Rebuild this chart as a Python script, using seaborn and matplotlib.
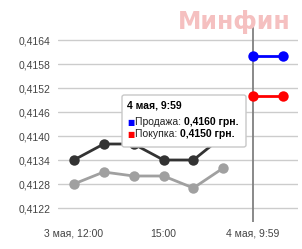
import matplotlib
matplotlib.use('Agg')
import matplotlib.pyplot as plt
import seaborn as sns
import pandas as pd
from matplotlib.patches import FancyBboxPatch
from matplotlib.text import Annotation

# ---- data ----
slots_prev = [0, 1, 2, 3, 4, 5]
sell_prev = [0.4134, 0.4138, 0.4138, 0.4134, 0.4134, 0.4140]
buy_prev = [0.4128, 0.4131, 0.4130, 0.4130, 0.4127, 0.4132]
slots_now = [6, 7]
sell_now = [0.4160, 0.4160]
buy_now = [0.4150, 0.4150]
yticks = [0.4122, 0.4128, 0.4134, 0.4140, 0.4146, 0.4152, 0.4158, 0.4164]
xtick_pos = [0, 3, 6]
xtick_labels = ['3 мая, 12:00', '15:00', '4 мая, 9:59']
tip_title = '4 мая, 9:59'
tip_sell = ('Продажа: ', '0,4160 грн.')
tip_buy = ('Покупка: ', '0,4150 грн.')
watermark = 'Минфин'

sns.set_theme(style='white')
plt.rcParams['font.family'] = ['Liberation Sans', 'DejaVu Sans']

W, H = 302, 249
fig = plt.figure(figsize=(W / 100, H / 100), dpi=100)
ax = fig.add_axes([58 / W, 1 - 222 / H, (298 - 58) / W, 200 / H])

prev = pd.DataFrame({'slot': slots_prev, 'sell': sell_prev, 'buy': buy_prev})
now = pd.DataFrame({'slot': slots_now, 'sell': sell_now, 'buy': buy_now})

kw = dict(marker='o', markersize=7.5, linewidth=2, markeredgewidth=0, ax=ax)
sns.lineplot(data=prev, x='slot', y='sell', color='#333333', zorder=3, **kw)
sns.lineplot(data=prev, x='slot', y='buy', color='#a0a0a0', zorder=3, **kw)
sns.lineplot(data=now, x='slot', y='sell', color='#0000ff', zorder=4, **kw)
sns.lineplot(data=now, x='slot', y='buy', color='#ff0000', zorder=4, **kw)

ax.axvline(6, color='#808080', lw=1.3, zorder=2)

ax.set_xlim(-0.53, 7.5)
ax.set_ylim(0.41185, 0.41685)
ax.set_yticks(yticks)
ax.set_yticklabels([f'{v:.4f}'.replace('.', ',') for v in yticks])
ax.set_xticks(xtick_pos)
ax.set_xticklabels(xtick_labels)
ax.set_xlabel('')
ax.set_ylabel('')
ax.grid(axis='y', color='#cccccc', lw=1)
ax.grid(axis='x', visible=False)
for s in ax.spines.values():
    s.set_visible(False)
ax.tick_params(axis='both', length=0, labelsize=7.5, colors='#444444')
ax.tick_params(axis='y', pad=5.5)
ax.tick_params(axis='x', pad=5)

# watermark
fig.text(178 / W, 1 - 28.5 / H, watermark, fontsize=17, fontweight='bold',
         color='#f5c0c0', ha='left', va='baseline', zorder=0,
         family='DejaVu Sans')

# tooltip
box = FancyBboxPatch((122 / W, 1 - 147 / H), (246 - 122) / W, (147 - 95) / H,
                     boxstyle='round,pad=0,rounding_size=0.008',
                     transform=fig.transFigure, facecolor='white',
                     edgecolor='#c8c8c8', lw=1, zorder=10)
fig.add_artist(box)
fs = 7.5
fig.text(127 / W, 1 - 108 / H, tip_title, fontsize=fs, fontweight='bold',
         color='black', zorder=11, va='baseline')
for yy, col, (lab, val) in [(125, '#0000ff', tip_sell), (137, '#ff0000', tip_buy)]:
    fig.text(127 / W, 1 - yy / H, '■', fontsize=5.5, color=col, zorder=11,
             va='baseline', family='DejaVu Sans')
    t = fig.text(135 / W, 1 - yy / H, lab, fontsize=fs, color='#222222',
                 zorder=11, va='baseline')
    a = Annotation(val, xy=(1, 0), xycoords=t, va='bottom', ha='left',
                   fontsize=fs, fontweight='bold', color='black',
                   annotation_clip=False)
    a.set_zorder(11)
    fig.add_artist(a)

fig.savefig('out.png', dpi=100)
